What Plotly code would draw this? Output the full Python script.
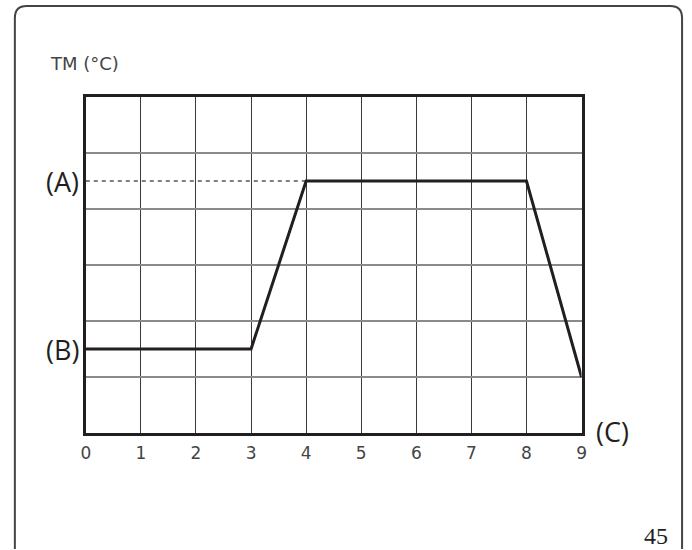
import plotly.graph_objects as go

# Data
time_x = [0, 3, 4, 8, 9]
temp_y = [1.5, 1.5, 4.5, 4.5, 1.0]
ref_a_x = [0, 4]
ref_a_y = [4.5, 4.5]
x_ticks = list(range(0, 10))
x_tick_labels = [str(v) for v in x_ticks]
level_labels = ["(A)", "(B)"]
level_values = [4.5, 1.5]
y_title = "TM (°C)"
x_title = "(C)"
page_number = "45"

W, H = 692, 550
px0, px1 = 82, 585
py0, py1 = 97, 433

fig = go.Figure()
fig.add_trace(go.Scatter(x=ref_a_x, y=ref_a_y, mode="lines",
                         line=dict(color="#555555", width=1.5, dash="4px,4px"),
                         hoverinfo="skip", showlegend=False))
fig.add_trace(go.Scatter(x=time_x, y=temp_y, mode="lines",
                         line=dict(color="#231f20", width=3),
                         cliponaxis=False, hoverinfo="skip", showlegend=False))

tick_font = dict(family="DejaVu Sans", size=17, color="#444444")

fig.update_xaxes(range=[0, 9], domain=[px0 / W, px1 / W],
                 tickvals=x_ticks, ticktext=x_tick_labels,
                 showgrid=True, gridcolor="#3a3a3a", gridwidth=1,
                 showline=True, mirror=True, linecolor="#231f20", linewidth=3,
                 ticks="outside", ticklen=3, tickcolor="rgba(0,0,0,0)",
                 tickfont=tick_font, zeroline=False, fixedrange=True)
fig.update_yaxes(range=[0, 6], domain=[1 - py1 / H, 1 - py0 / H],
                 dtick=1, showticklabels=False,
                 showgrid=True, gridcolor="#8a8a8a", gridwidth=1.5,
                 showline=True, mirror=True, linecolor="#231f20", linewidth=3,
                 zeroline=False, fixedrange=True)

annotations = []
for lab, val in zip(level_labels, level_values):
    annotations.append(dict(text=lab, x=77 / W, xref="paper", y=val, yref="y",
                            xanchor="right", yanchor="middle", showarrow=False,
                            font=dict(family="Open Sans", size=27, color="#231f20")))
annotations.append(dict(text=x_title, x=598 / W, xref="paper", y=0.02, yref="y",
                        xanchor="left", yanchor="middle", showarrow=False,
                        font=dict(family="Open Sans", size=27, color="#231f20")))
annotations.append(dict(text=y_title, x=44 / W, xref="paper", y=1 - 64 / H, yref="paper",
                        xanchor="left", yanchor="middle", showarrow=False,
                        font=dict(family="DejaVu Sans", size=18, color="#444444")))
annotations.append(dict(text=page_number, x=675 / W, xref="paper", y=1 - 536 / H, yref="paper",
                        xanchor="right", yanchor="middle", showarrow=False,
                        font=dict(family="Liberation Serif", size=24, color="#231f20")))

# Rounded page border (open at bottom)
lx, rx = 10 / W, 687 / W
ty, by = 1 - 6 / H, 1 - 549 / H
rxp, ryp = 12 / W, 12 / H
path = (f"M {lx},{by} L {lx},{ty - ryp} Q {lx},{ty} {lx + rxp},{ty} "
        f"L {rx - rxp},{ty} Q {rx},{ty} {rx},{ty - ryp} L {rx},{by}")

fig.update_layout(width=W, height=H, margin=dict(l=0, r=0, t=0, b=0),
                  paper_bgcolor="white", plot_bgcolor="white",
                  annotations=annotations,
                  shapes=[dict(type="path", path=path, xref="paper", yref="paper",
                               line=dict(color="#444444", width=2))])

fig.write_html("out.html", config={"displayModeBar": False},
               post_script="document.body.style.margin='0px';document.body.style.padding='0px';"
                           "document.documentElement.style.overflow='hidden';")
